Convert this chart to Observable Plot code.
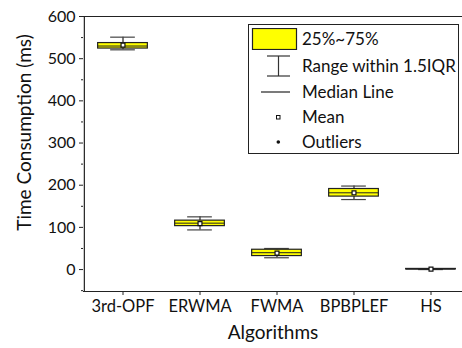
<!DOCTYPE html>
<html>
<head>
<meta charset="utf-8">
<script src="https://cdn.jsdelivr.net/npm/d3@7"></script>
<script src="https://cdn.jsdelivr.net/npm/@observablehq/plot@0.6"></script>
<style>
  html, body { margin: 0; padding: 0; background: #fff; }
  #wrap { position: relative; width: 462px; height: 348px; font-family: Lato, sans-serif; }
  #legend { position: absolute; left: 248px; top: 24px; width: 211px; height: 130px;
            border: 1px solid #222; background: #fff; box-sizing: border-box; }
  .row { position: absolute; left: 0; height: 22px; width: 100%; }
  .row span { position: absolute; left: 53px; top: 50%; transform: translateY(-52%); font-size: 17px; color: #111; white-space: nowrap; }
  .row svg { position: absolute; left: 0; top: 0; }
</style>
</head>
<body>
<div id="wrap"></div>
<script>
const categories = ["3rd-OPF", "ERWMA", "FWMA", "BPBPLEF", "HS"];
const whiskerLow  = [521, 94, 28, 166, 0];
const q1          = [524, 103, 32, 173, 0.5];
const median      = [530, 110, 40, 182, 1];
const mean        = [532, 109, 39, 182, 1];
const q3          = [537, 116, 47, 191, 1.5];
const whiskerHigh = [551, 125, 50, 198, 2];
const yTicks = [0, 100, 200, 300, 400, 500, 600];
const yMinorTicks = [-50, 50, 150, 250, 350, 450, 550];
const legendLabels = ["25%~75%", "Range within 1.5IQR", "Median Line", "Mean", "Outliers"];

const data = categories.map((c, i) => ({
  cat: c, lo: whiskerLow[i], q1: q1[i], med: median[i], mean: mean[i], q3: q3[i], hi: whiskerHigh[i]
}));

const step = 77.3;
const boxInset = (step - 50) / 2;
const capInset = (step - 25) / 2;

const chart = Plot.plot({
  width: 462,
  height: 348,
  marginLeft: 83,
  marginRight: 0,
  marginTop: 16,
  marginBottom: 57,
  style: { fontFamily: "Lato, sans-serif", background: "#fff", color: "#111" },
  x: { type: "band", domain: categories, range: [83, 83 + 5 * step], padding: 0 },
  y: { domain: [-52, 600] },
  marks: [
    // frame lines
    Plot.ruleY([600], { stroke: "#222", strokeWidth: 1.2 }),
    Plot.ruleY([-52], { stroke: "#222", strokeWidth: 1.2 }),
    Plot.ruleX([categories[0]], { x: d => d, y1: -52, y2: 600, dx: -step / 2, stroke: "#222", strokeWidth: 1.2 }),
    // axes
    Plot.axisY(yTicks, { tickSize: 4, tickPadding: 4, fontSize: 16, label: null, stroke: "#222" }),
    Plot.axisY(yMinorTicks, { tickSize: 2, tickFormat: () => "", label: null, stroke: "#222" }),
    Plot.axisX({ tickSize: 4, tickPadding: 5, fontSize: 16.5, label: null, stroke: "#222" }),
    // whiskers
    Plot.ruleX(data, { x: "cat", y1: "lo", y2: "hi", stroke: "#222", strokeWidth: 1.2 }),
    Plot.tickY(data, { x: "cat", y: "lo", stroke: "#444", strokeWidth: 1.2, insetLeft: capInset, insetRight: capInset }),
    Plot.tickY(data, { x: "cat", y: "hi", stroke: "#444", strokeWidth: 1.2, insetLeft: capInset, insetRight: capInset }),
    // boxes
    Plot.barY(data, { x: "cat", y1: "q1", y2: "q3", fill: "#ffff00", stroke: "#222", strokeWidth: 1.2, insetLeft: boxInset, insetRight: boxInset }),
    Plot.tickY(data, { x: "cat", y: "med", stroke: "#222", strokeWidth: 1, insetLeft: boxInset, insetRight: boxInset }),
    Plot.dot(data, { x: "cat", y: "mean", symbol: "square", r: 2.2, fill: "#fff", stroke: "#111", strokeWidth: 1.2 }),
    // axis titles
    Plot.text(["Time Consumption (ms)"], { frameAnchor: "left", textAnchor: "middle", lineAnchor: "middle", rotate: -90, dx: -59, dy: -21.5, fontSize: 19, fill: "#111" }),
    Plot.text(["Algorithms"], { frameAnchor: "bottom", textAnchor: "middle", lineAnchor: "middle", dy: 41, fontSize: 19, fill: "#111" })
  ]
});

const wrap = document.getElementById("wrap");
wrap.appendChild(chart);

// legend overlay
const legend = document.createElement("div");
legend.id = "legend";
const symbols = [
  `<svg width="50" height="22"><rect x="3.5" y="0.5" width="44" height="21" fill="#ffff00" stroke="#222" stroke-width="1.2"/></svg>`,
  `<svg width="50" height="22"><line x1="29.5" y1="1" x2="29.5" y2="21" stroke="#333" stroke-width="1.2"/><line x1="18" y1="1" x2="41" y2="1" stroke="#333" stroke-width="1.2"/><line x1="18" y1="21" x2="41" y2="21" stroke="#333" stroke-width="1.2"/></svg>`,
  `<svg width="50" height="22"><line x1="12" y1="11" x2="41" y2="11" stroke="#222" stroke-width="1.2"/></svg>`,
  `<svg width="50" height="22"><rect x="27.5" y="9.5" width="3.5" height="3.5" fill="#fff" stroke="#111" stroke-width="1"/></svg>`,
  `<svg width="50" height="22"><circle cx="29.3" cy="11" r="1.8" fill="#111"/></svg>`
];
const tops = [3, 30, 56, 81, 106];
legendLabels.forEach((lab, i) => {
  const row = document.createElement("div");
  row.className = "row";
  row.style.top = tops[i] + "px";
  row.innerHTML = symbols[i] + `<span>${lab}</span>`;
  legend.appendChild(row);
});
wrap.appendChild(legend);
</script>
</body>
</html>
